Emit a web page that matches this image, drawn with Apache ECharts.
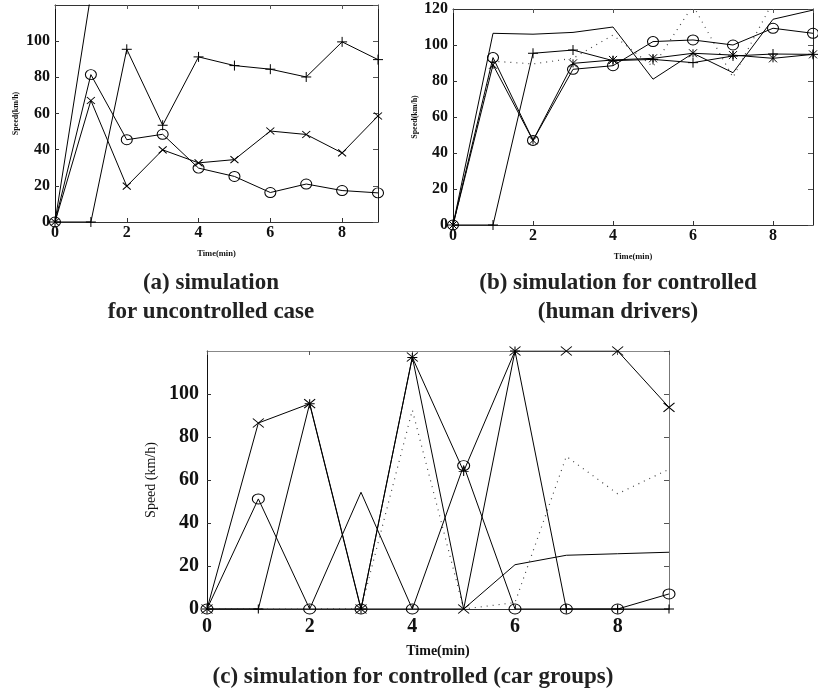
<!DOCTYPE html>
<html>
<head>
<meta charset="utf-8">
<script src="https://cdn.jsdelivr.net/npm/echarts@6/dist/echarts.min.js"></script>
<style>
  html, body { margin: 0; padding: 0; background: #fff; }
  #chart { width: 818px; height: 695px; }
</style>
</head>
<body>
<div id="chart"></div>
<script>
var minutes = [0, 1, 2, 3, 4, 5, 6, 7, 8, 9];

// (a) uncontrolled case
var aPlain  = [0, 126, null, null, null, null, null, null, null, null];
var aPlus   = [0, 0, 95.5, 53.5, 91.3, 86.5, 84.5, 80.2, 99.6, 89.8];
var aCircle = [0, 81.5, 45.5, 48.5, 29.8, 25.2, 16.3, 21, 17.4, 16.1];
var aCross  = [0, 67.2, 19.8, 39.9, 32.7, 34.5, 50.3, 48.4, 38.2, 58.6];

// (b) controlled, human drivers
var bPlain  = [0, 106.5, 106, 107, 110, 81, 95.4, 84.6, 114.3, 119.4];
var bDotted = [0, 91, 89.5, 92.6, 105.5, 88, 122, 82, 124, 124];
var bPlus   = [0, 0, 95.4, 97.2, 91.3, 92, 90.2, 93.9, 95, 94.8];
var bStar   = [0, 89, 47, 89.8, 91.7, 92.6, 95.4, 94.4, 92.6, 94.8];
var bCircle = [0, 93, 47, 86.5, 88.5, 101.9, 102.8, 100, 109.3, 106.5];

// (c) controlled, car groups
var cCross  = [0, 86.5, 95.5, 0, 117.2, 0, 120, 120, 120, 93.8];
var cCircle = [0, 51.2, 0, 0, 0, 66.7, 0, 0, 0, 7];
var cPlus   = [0, 0, 95.5, 0, 117, 64, 120, 0, 0, 0];
var cPlain  = [0, 0, 0, 54.3, 0, 0, 20.6, 25, 25.7, 26.4];
var cDotted = [0, 0, 0, 0, 92.5, 0, 3, 71, 53.6, 65];

var FONT = 'Liberation Serif';
var SYM_PLUS  = 'path://M5,0L5,10M0,5L10,5';
var SYM_CROSS = 'path://M0,0L10,10M10,0L0,10';
var SYM_STAR  = 'path://M0,0L10,10M10,0L0,10M5,0L5,10';

var chart = echarts.init(document.getElementById('chart'));

function pairs(vals) {
    return minutes.map(function (m, i) { return [m, vals[i]]; });
}

function mkSeries(vals, idx, symbol, size, dotted) {
    return {
        type: 'line',
        xAxisIndex: idx * 2,
        yAxisIndex: idx * 2,
        data: pairs(vals),
        symbol: symbol || 'none',
        symbolSize: size || 10,
        showSymbol: !!symbol,
        clip: true,
        lineStyle: { color: dotted ? '#444' : '#000', width: dotted ? 1.2 : 1, type: dotted ? [1, 5] : 'solid' },
        itemStyle: { color: 'rgba(0,0,0,0)', borderColor: '#000', borderWidth: 1 }
    };
}

// plot boxes in pixels, fs = tick label size
var grids = [
    { left: 55, top: 5, width: 323, height: 217, fs: 16 },
    { left: 453, top: 9, width: 360, height: 216, fs: 16 },
    { left: 207, top: 351, width: 462, height: 258, fs: 20 }
];

var xAxes = [], yAxes = [];
grids.forEach(function (g, i) {
    var big = i === 2;
    xAxes.push({
        type: 'value', gridIndex: i, min: 0, max: 9, interval: 2,
        name: 'Time(min)', nameLocation: 'middle', nameGap: big ? 35 : 27,
        nameTextStyle: { fontFamily: FONT, fontWeight: 'bold', fontSize: big ? 14 : 8.5, color: '#111' },
        axisLine: { onZero: false, lineStyle: { color: '#333' } },
        axisTick: { inside: true, length: 4, lineStyle: { color: '#333' } },
        axisLabel: { fontFamily: FONT, fontWeight: 'bold', fontSize: g.fs, color: '#111', margin: big ? 8 : 3, showMaxLabel: false },
        splitLine: { show: false }
    });
    xAxes.push({
        type: 'value', gridIndex: i, position: 'top', min: 0, max: 9, interval: 2,
        axisLine: { onZero: false, lineStyle: { color: big ? '#888' : '#333' } },
        axisTick: { inside: true, length: 4, lineStyle: { color: '#555' } },
        axisLabel: { show: false },
        splitLine: { show: false }
    });
    yAxes.push({
        type: 'value', gridIndex: i, min: 0, max: 120, interval: 20,
        name: big ? 'Speed (km/h)' : 'Speed(km/h)', nameLocation: 'middle',
        nameGap: big ? 44 : (i === 0 ? 35 : 34),
        nameTextStyle: { fontFamily: FONT, fontWeight: big ? 'normal' : 'bold', fontSize: big ? 14 : 8, color: '#111' },
        axisLine: { onZero: false, lineStyle: { color: '#111' } },
        axisTick: { inside: true, length: 4, lineStyle: { color: '#333' } },
        axisLabel: { fontFamily: FONT, fontWeight: 'bold', fontSize: g.fs, color: '#111', margin: big ? 8 : 5, showMaxLabel: i === 1 },
        splitLine: { show: false }
    });
    yAxes.push({
        type: 'value', gridIndex: i, position: 'right', min: 0, max: 120, interval: 20,
        axisLine: { onZero: false, lineStyle: { color: big ? '#777' : '#222' } },
        axisTick: { inside: true, length: 5, lineStyle: { color: '#555' } },
        axisLabel: { show: false },
        splitLine: { show: false }
    });
});

var series = [
    mkSeries(aPlain, 0),
    mkSeries(aPlus, 0, SYM_PLUS, 10),
    mkSeries(aCircle, 0, 'circle', [11, 10]),
    mkSeries(aCross, 0, SYM_CROSS, [8, 7]),

    mkSeries(bPlain, 1),
    mkSeries(bDotted, 1, null, null, true),
    mkSeries(bPlus, 1, SYM_PLUS, 10),
    mkSeries(bStar, 1, SYM_STAR, [8, 8]),
    mkSeries(bCircle, 1, 'circle', [11, 10]),

    mkSeries(cPlain, 2),
    mkSeries(cDotted, 2, null, null, true),
    mkSeries(cPlus, 2, SYM_PLUS, [10, 9]),
    mkSeries(cCircle, 2, 'circle', [12, 10]),
    mkSeries(cCross, 2, SYM_CROSS, [11, 9])
];

function caption(x, y, text) {
    return {
        type: 'text', x: x, y: y,
        style: {
            text: text, fill: '#222', align: 'center', verticalAlign: 'middle',
            font: 'bold 23px "' + FONT + '"'
        }
    };
}

var option = {
    animation: false,
    grid: grids.map(function (g) {
        return { left: g.left, top: g.top, width: g.width, height: g.height };
    }),
    xAxis: xAxes,
    yAxis: yAxes,
    series: series,
    graphic: [
        caption(211, 283, '(a) simulation'),
        caption(211, 312, 'for uncontrolled case'),
        caption(618, 283, '(b) simulation for controlled'),
        caption(618, 312, '(human drivers)'),
        caption(413, 677, '(c) simulation for controlled (car groups)')
    ]
};
chart.setOption(option);
</script>
</body>
</html>
